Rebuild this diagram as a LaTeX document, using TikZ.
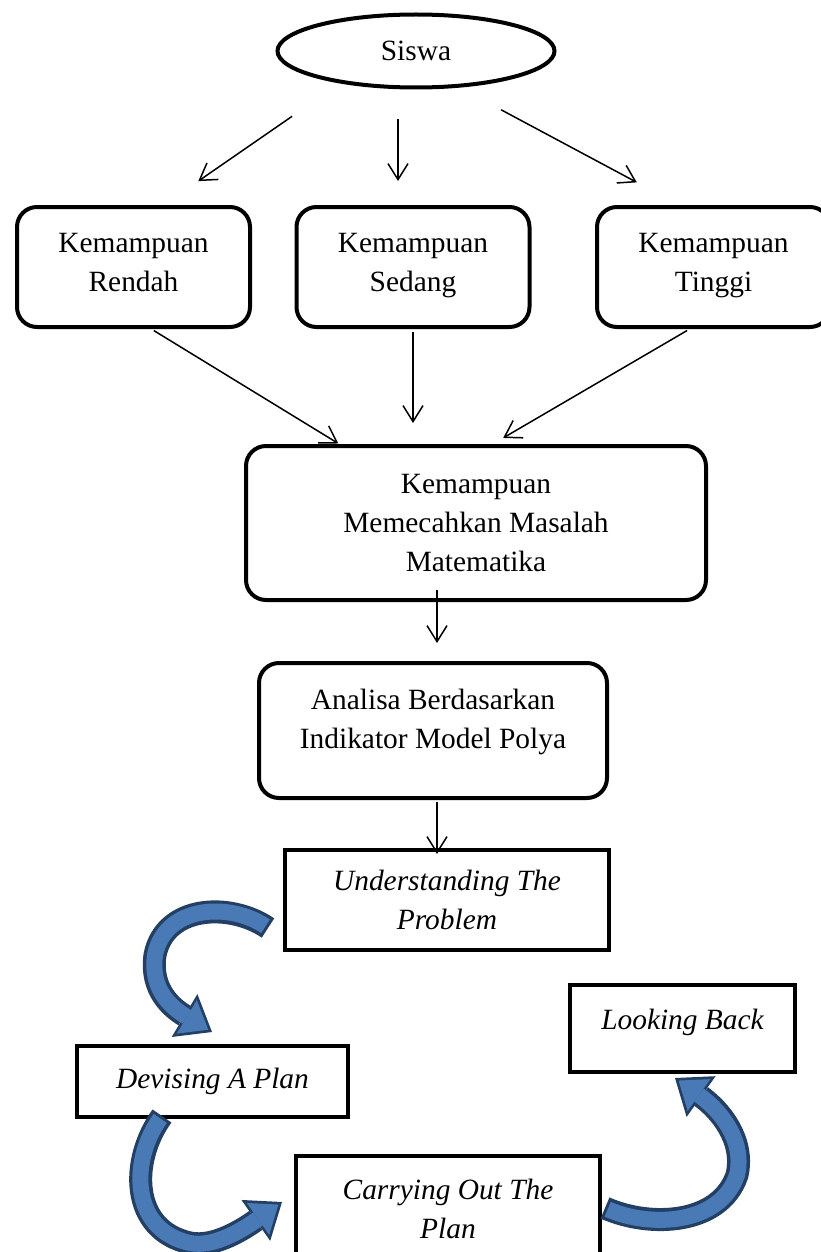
\documentclass[tikz,border=0pt]{standalone}
\usepackage{fontspec}
\setmainfont{Liberation Serif}
\usetikzlibrary{arrows.meta,shapes.geometric}
\definecolor{bandfill}{HTML}{4A7AB5}
\definecolor{bandedge}{HTML}{233F63}
\newcommand{\bandarrow}[1]{%
  \draw[bandout] #1;
  \draw[bandin] #1;}
\begin{document}
\begin{tikzpicture}[x=0.5pt,y=-0.5pt,
    font=\fontsize{14.7}{19.5}\selectfont,
    box/.style={draw,line width=2pt,rounded corners=10pt,align=center,inner sep=0pt},
    plain/.style={draw,line width=2pt,align=center,inner sep=0pt,
      font=\fontsize{14.7}{19.5}\selectfont\itshape},
    conn/.style={line width=0.75pt,-{Straight Barb[length=8pt,width=10pt]}},
    bandout/.style={draw=bandedge,line width=11.5pt,
      -{Triangle[length=16pt,width=25pt,line width=0pt]}},
    bandin/.style={draw=bandfill,line width=8pt,shorten <=1.5pt,shorten >=2.2pt,
      -{Triangle[length=12.5pt,width=19.5pt,line width=0pt]}}]
  \useasboundingbox (0,0) rectangle (820,1252);
  \node[ellipse,draw,line width=2pt,minimum width=138.5pt,minimum height=36.5pt,
    inner sep=0pt] (siswa) at (416,51) {Siswa};
  \node[box,minimum width=116.5pt,minimum height=60pt,text depth=5pt] (rendah) at (133.5,267) {Kemampuan\\Rendah};
  \node[box,minimum width=116.5pt,minimum height=60pt,text depth=5pt] (sedang) at (413,267) {Kemampuan\\Sedang};
  \node[box,minimum width=116.5pt,minimum height=60pt,text depth=5pt] (tinggi) at (713.5,267) {Kemampuan\\Tinggi};
  \node[box,minimum width=230pt,minimum height=77pt] (masalah) at (476,523)
    {Kemampuan\\Memecahkan Masalah\\Matematika};
  \node[box,minimum width=174pt,minimum height=67.5pt,text depth=12pt] (analisa) at (433,730.5)
    {Analisa Berdasarkan\\Indikator Model Polya};
  \node[plain,minimum width=162pt,minimum height=50pt] (understand) at (447,900)
    {Understanding The\\Problem};
  \node[plain,minimum width=135.5pt,minimum height=35.5pt] (devise) at (212.5,1081.5) {Devising A Plan};
  \node[plain,minimum width=112.5pt,minimum height=43.5pt,text depth=9pt] (lookback) at (682.5,1028.5) {Looking Back};
  \node[plain,minimum width=152pt,minimum height=53pt] (carry) at (448,1208.5)
    {Carrying Out The\\Plan};

  % siswa ke kelompok kemampuan
  \draw[conn,shorten <=29pt,shorten >=21pt] (siswa.203) -- (rendah.64);
  \draw[conn,shorten <=15pt,shorten >=12pt] ([xshift=-9pt]siswa.south)
    -- ([xshift=-9pt]siswa.south |- sedang.north);
  \draw[conn,shorten <=23.5pt,shorten >=24pt] (siswa.320) -- (tinggi.119);
  \draw[conn,shorten <=1.5pt,shorten >=0.5pt] (rendah.286) -- (masalah.150);
  \draw[conn,shorten <=1.5pt,shorten >=10.5pt] (sedang.south) -- (sedang.south |- masalah.north);
  \draw[conn,shorten <=1.5pt,shorten >=6pt] (tinggi.249) -- (masalah.78);
  \draw[conn,shorten <=-6pt,shorten >=9pt] ([xshift=2pt]masalah.south -| analisa.north)
    -- ([xshift=2pt]analisa.north);
  \draw[conn,shorten <=1pt,shorten >=-3pt] ([xshift=2pt]analisa.south)
    -- ([xshift=2pt]analisa.south |- understand.north);

  % langkah polya
  \coordinate (u1) at (268,928);
  \coordinate (d1) at (212,1032);
  \coordinate (d2) at (162,1116);
  \coordinate (c2) at (282,1202);
  \coordinate (c3) at (605,1208);
  \coordinate (l3) at (675,1078);
  \bandarrow{(u1) .. controls (230,902) and (165,905) .. (155,955)
    .. controls (150,990) and (172,1008) .. (d1)}
  \bandarrow{(d2) .. controls (130,1160) and (130,1230) .. (190,1243)
    .. controls (215,1248) and (245,1228) .. (c2)}
  \bandarrow{(c3) .. controls (650,1228) and (720,1225) .. (737,1175)
    .. controls (745,1140) and (720,1110) .. (l3)}
\end{tikzpicture}
\end{document}
